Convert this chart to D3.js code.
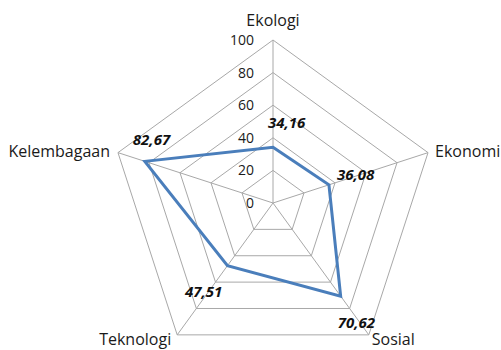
<!DOCTYPE html>
<html><head><meta charset="utf-8">
<script src="https://cdn.jsdelivr.net/npm/d3@7/dist/d3.min.js"></script>
<style>body{margin:0;background:#fff}svg{display:block}</style>
</head><body>
<svg id="c" width="501" height="350"></svg>
<script>
const categories = ["Ekologi","Ekonomi","Sosial","Teknologi","Kelembagaan"];
const values = [34.16, 36.08, 70.62, 47.51, 82.67];
const valueLabels = ["34,16","36,08","70,62","47,51","82,67"];
const tickValues = [0,20,40,60,80,100];

const cx = 273, cy = 203, R = 163;
const svg = d3.select("#c");
const r = d3.scaleLinear().domain([0,100]).range([0,R]);
const ang = d3.scaleLinear().domain([0,categories.length]).range([0,2*Math.PI]);
const pt = (i,v) => [cx + Math.sin(ang(i))*r(v), cy - Math.cos(ang(i))*r(v)];

const grid = svg.append("g").attr("stroke","#a8a8a8").attr("stroke-width",1).attr("fill","none");
tickValues.filter(t=>t>0).forEach(t=>{
  grid.append("polygon").attr("points", categories.map((c,i)=>pt(i,t).join(",")).join(" "));
});
categories.forEach((c,i)=>{
  const p = pt(i,100);
  grid.append("line").attr("x1",cx).attr("y1",cy).attr("x2",p[0]).attr("y2",p[1]);
});

// tick labels
svg.append("g").selectAll("text").data(tickValues).join("text")
  .attr("x", cx-19).attr("y", d=>cy - r(d)).attr("dy","0.36em")
  .attr("text-anchor","end").attr("font-family","Open Sans").attr("font-size",14)
  .attr("fill","#1a1a1a").text(d=>d);

// series
const line = d3.line().curve(d3.curveLinearClosed);
svg.append("path").attr("d", line(values.map((v,i)=>pt(i,v))))
  .attr("fill","none").attr("stroke","#4a7ebb").attr("stroke-width",3).attr("stroke-linejoin","miter");

// axis labels
const catStyle = [
  {anchor:"middle", dx:0, dy:-14},
  {anchor:"start", dx:7, dy:4},
  {anchor:"start", dx:3, dy:10},
  {anchor:"end", dx:-6, dy:10},
  {anchor:"end", dx:-8, dy:4}
];
svg.append("g").selectAll("text").data(categories).join("text")
  .attr("x",(d,i)=>pt(i,100)[0]+catStyle[i].dx)
  .attr("y",(d,i)=>pt(i,100)[1]+catStyle[i].dy)
  .attr("text-anchor",(d,i)=>catStyle[i].anchor)
  .attr("font-family","Open Sans").attr("font-size",16).attr("fill","#1a1a1a")
  .text(d=>d);

// value labels
const valOff = [[-5,-19],[8,-5],[-3,32],[-42.5,31],[-12,-16]];
svg.append("g").selectAll("text").data(values).join("text")
  .attr("x",(d,i)=>pt(i,d)[0]+valOff[i][0])
  .attr("y",(d,i)=>pt(i,d)[1]+valOff[i][1])
  .attr("font-family","Open Sans").attr("font-size",15)
  .attr("font-weight","bold").attr("font-style","italic").attr("fill","#111")
  .text((d,i)=>valueLabels[i]);
</script>
</body></html>
